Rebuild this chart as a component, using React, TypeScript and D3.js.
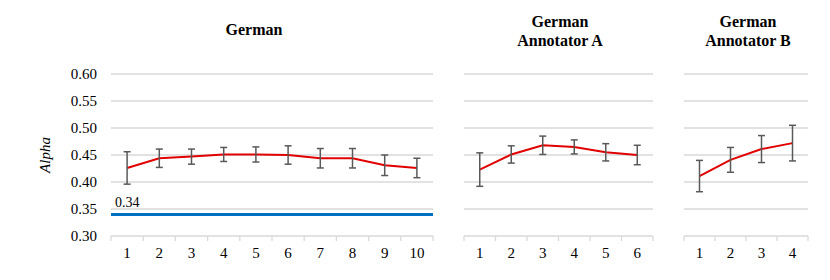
import React from 'react';
import * as d3 from 'd3';

// values
const germanLabels = ['1', '2', '3', '4', '5', '6', '7', '8', '9', '10'];
const germanMean = [0.426, 0.444, 0.447, 0.451, 0.451, 0.45, 0.444, 0.444, 0.431, 0.426];
const germanErr = [0.03, 0.017, 0.014, 0.013, 0.014, 0.017, 0.018, 0.018, 0.019, 0.018];

const annALabels = ['1', '2', '3', '4', '5', '6'];
const annAMean = [0.423, 0.451, 0.468, 0.465, 0.455, 0.45];
const annAErr = [0.031, 0.016, 0.017, 0.013, 0.016, 0.018];

const annBLabels = ['1', '2', '3', '4'];
const annBMean = [0.411, 0.441, 0.461, 0.472];
const annBErr = [0.029, 0.023, 0.025, 0.033];

const baselineValue = 0.34;
const yTicks = [0.3, 0.35, 0.4, 0.45, 0.5, 0.55, 0.6];

const GRID = '#d9d9d9';
const ERR = '#595959';
const RED = '#e00000';
const BLUE = '#0070c0';

const y = d3.scaleLinear().domain([0.3, 0.6]).range([236, 74]);

type PanelProps = {
  labels: string[];
  mean: number[];
  err: number[];
  x0: number;
  x1: number;
  title: string[];
  titleX: number;
  baseline?: number;
};

const Panel = ({ labels, mean, err, x0, x1, title, titleX, baseline }: PanelProps) => {
  const x = d3.scaleBand().domain(labels).range([x0, x1]);
  const cx = (i: number) => (x(labels[i]) as number) + x.bandwidth() / 2;
  const line = d3.line<number>().x((_, i) => cx(i)).y(d => y(d));
  const titleY = title.length === 1 ? [35] : [27, 46];

  return (
    <g>
      {title.map((t, i) => (
        <text key={t} x={titleX} y={titleY[i]} textAnchor="middle"
          fontWeight="bold" fontSize={16} fill="#000">{t}</text>
      ))}
      {yTicks.map(t => (
        <line key={t} x1={x0} x2={x1} y1={y(t)} y2={y(t)} stroke={GRID} strokeWidth={1.3} />
      ))}
      {labels.map(l => (
        <line key={'tk' + l} x1={x(l)} x2={x(l)} y1={y(0.3)} y2={y(0.3) + 5} stroke={GRID} strokeWidth={1.3} />
      ))}
      <line x1={x1} x2={x1} y1={y(0.3)} y2={y(0.3) + 5} stroke={GRID} strokeWidth={1.3} />
      {labels.map((l, i) => (
        <text key={'lb' + l} x={cx(i)} y={258} textAnchor="middle" fontSize={15} fill="#000">{l}</text>
      ))}
      {baseline !== undefined && (
        <g>
          <line x1={x0} x2={x1} y1={y(baseline)} y2={y(baseline)} stroke={BLUE} strokeWidth={3} />
          <text x={x0 + 4} y={y(baseline) - 7} fontSize={14} fill="#000">
            {baseline.toFixed(2)}
          </text>
        </g>
      )}
      <path d={line(mean) || ''} fill="none" stroke={RED} strokeWidth={2} />
      {mean.map((m, i) => (
        <g key={'e' + i} stroke={ERR} strokeWidth={1.5}>
          <line x1={cx(i)} x2={cx(i)} y1={y(m - err[i])} y2={y(m + err[i])} />
          <line x1={cx(i) - 3.5} x2={cx(i) + 3.5} y1={y(m + err[i])} y2={y(m + err[i])} />
          <line x1={cx(i) - 3.5} x2={cx(i) + 3.5} y1={y(m - err[i])} y2={y(m - err[i])} />
        </g>
      ))}
    </g>
  );
};

export default function App() {
  return (
    <svg className="chart" width={830} height={280}
      style={{ position: 'absolute', left: 0, top: 0, background: '#fff' }}>
      <style>{`svg.chart text { font-family: 'Liberation Serif', serif !important; }`}</style>
      {yTicks.map(t => (
        <text key={t} x={97} y={y(t) + 5} textAnchor="end" fontSize={15} fill="#000">
          {t.toFixed(2)}
        </text>
      ))}
      <text transform={`translate(50,${y(0.45)}) rotate(-90)`} textAnchor="middle"
        fontStyle="italic" fontSize={15} fill="#000">Alpha</text>
      <Panel labels={germanLabels} mean={germanMean} err={germanErr} x0={111} x1={433}
        title={['German']} titleX={254} baseline={baselineValue} />
      <Panel labels={annALabels} mean={annAMean} err={annAErr} x0={464} x1={653}
        title={['German', 'Annotator A']} titleX={560} />
      <Panel labels={annBLabels} mean={annBMean} err={annBErr} x0={684} x1={808}
        title={['German', 'Annotator B']} titleX={748} />
    </svg>
  );
}
